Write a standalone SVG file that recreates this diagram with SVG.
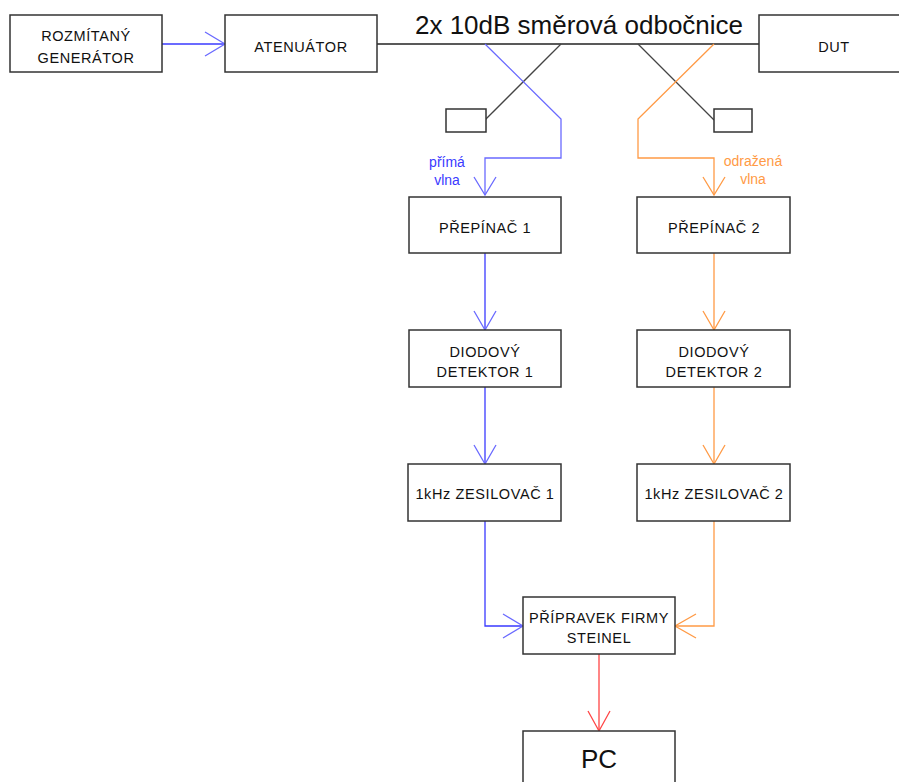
<svg xmlns="http://www.w3.org/2000/svg" width="899" height="782" viewBox="0 0 899 782">
  <style>
    .box { fill: #ffffff; stroke: #333333; stroke-width: 1.5; }
    .lbl { font-family: "Liberation Sans", Arial, sans-serif; font-size: 14.5px; letter-spacing: 0.6px; fill: #111111; text-anchor: middle; }
    .big { font-family: "Liberation Sans", Arial, sans-serif; font-size: 26px; fill: #111111; text-anchor: middle; }
    .note { font-family: "Liberation Sans", Arial, sans-serif; font-size: 14px; text-anchor: middle; }
    .wire { fill: none; stroke-width: 1.3; }
    .blue { stroke: #3a3aff; }
    .blue2 { stroke: #6a6aff; }
    .orange { stroke: #ff9a45; }
    .red { stroke: #ff4545; }
    .gray { stroke: #444444; }
    .black { stroke: #222222; }
  </style>

  <!-- connectors -->
  <g id="connectors">
    <!-- generator -> attenuator -->
    <path class="wire blue" d="M162 44 H225"/>
    <path class="wire blue2" d="M205 32 L225 44 L205 56"/>
    <!-- main line through coupler to DUT -->
    <path class="wire black" d="M377 44 H759"/>
    <!-- coupler 1 -->
    <path class="wire gray" d="M561 44 L485 120"/>
    <path class="wire blue2" d="M485 44 L561 119 V158 H485 V195"/>
    <path class="wire blue2" d="M474 177 L485 195 L496 177"/>
    <!-- coupler 2 -->
    <path class="wire gray" d="M638 44 L714 120"/>
    <path class="wire orange" d="M714 44 L638 119 V158 H714 V195"/>
    <path class="wire orange" d="M703 177 L714 195 L725 177"/>
    <!-- left chain -->
    <path class="wire blue" d="M485 253 V330"/>
    <path class="wire blue2" d="M474 311 L485 330 L496 311"/>
    <path class="wire blue" d="M485 387 V464"/>
    <path class="wire blue2" d="M474 445 L485 464 L496 445"/>
    <path class="wire blue" d="M485 521 V626 H523"/>
    <path class="wire blue2" d="M503 614 L523 626 L503 638"/>
    <!-- right chain -->
    <path class="wire orange" d="M714 253 V330"/>
    <path class="wire orange" d="M703 311 L714 330 L725 311"/>
    <path class="wire orange" d="M714 387 V464"/>
    <path class="wire orange" d="M703 445 L714 464 L725 445"/>
    <path class="wire orange" d="M714 521 V626 H675"/>
    <path class="wire orange" d="M696 614 L675 626 L696 638"/>
    <!-- steinel -> PC -->
    <path class="wire red" d="M599 654 V731"/>
    <path class="wire red" d="M588 711 L599 731 L610 711"/>
  </g>

  <text class="big" x="579" y="34">2x 10dB směrová odbočnice</text>
  <text class="note" x="447" y="167" fill="#3a3aff">přímá</text>
  <text class="note" x="447" y="185" fill="#3a3aff">vlna</text>
  <text class="note" x="753" y="166" fill="#ff9a45">odražená</text>
  <text class="note" x="753" y="184" fill="#ff9a45">vlna</text>

  <g id="generator">
    <rect class="box" x="10" y="15" width="152" height="57"/>
    <text class="lbl" x="86" y="41">ROZMÍTANÝ</text>
    <text class="lbl" x="86" y="63">GENERÁTOR</text>
  </g>
  <g id="attenuator">
    <rect class="box" x="225" y="15" width="152" height="57"/>
    <text class="lbl" x="301" y="52">ATENUÁTOR</text>
  </g>
  <g id="dut">
    <rect class="box" x="759" y="15" width="150" height="57"/>
    <text class="lbl" x="834" y="52">DUT</text>
  </g>
  <g id="load1">
    <rect class="box" x="446" y="109" width="40" height="23"/>
  </g>
  <g id="load2">
    <rect class="box" x="714" y="109" width="38" height="23"/>
  </g>
  <g id="switch1">
    <rect class="box" x="409" y="197" width="152" height="56"/>
    <text class="lbl" x="485" y="233">PŘEPÍNAČ 1</text>
  </g>
  <g id="switch2">
    <rect class="box" x="637" y="197" width="153" height="56"/>
    <text class="lbl" x="714" y="233">PŘEPÍNAČ 2</text>
  </g>
  <g id="detector1">
    <rect class="box" x="409" y="330" width="152" height="57"/>
    <text class="lbl" x="485" y="357">DIODOVÝ</text>
    <text class="lbl" x="485" y="377">DETEKTOR 1</text>
  </g>
  <g id="detector2">
    <rect class="box" x="637" y="330" width="153" height="57"/>
    <text class="lbl" x="714" y="357">DIODOVÝ</text>
    <text class="lbl" x="714" y="377">DETEKTOR 2</text>
  </g>
  <g id="amp1">
    <rect class="box" x="408" y="464" width="153" height="57"/>
    <text class="lbl" x="485" y="499">1kHz ZESILOVAČ 1</text>
  </g>
  <g id="amp2">
    <rect class="box" x="637" y="464" width="153" height="57"/>
    <text class="lbl" x="714" y="499">1kHz ZESILOVAČ 2</text>
  </g>
  <g id="steinel">
    <rect class="box" x="523" y="597" width="152" height="57"/>
    <text class="lbl" x="599" y="623">PŘÍPRAVEK FIRMY</text>
    <text class="lbl" x="599" y="643">STEINEL</text>
  </g>
  <g id="pc">
    <rect class="box" x="523" y="731" width="152" height="60"/>
    <text class="big" x="599" y="768">PC</text>
  </g>
</svg>
